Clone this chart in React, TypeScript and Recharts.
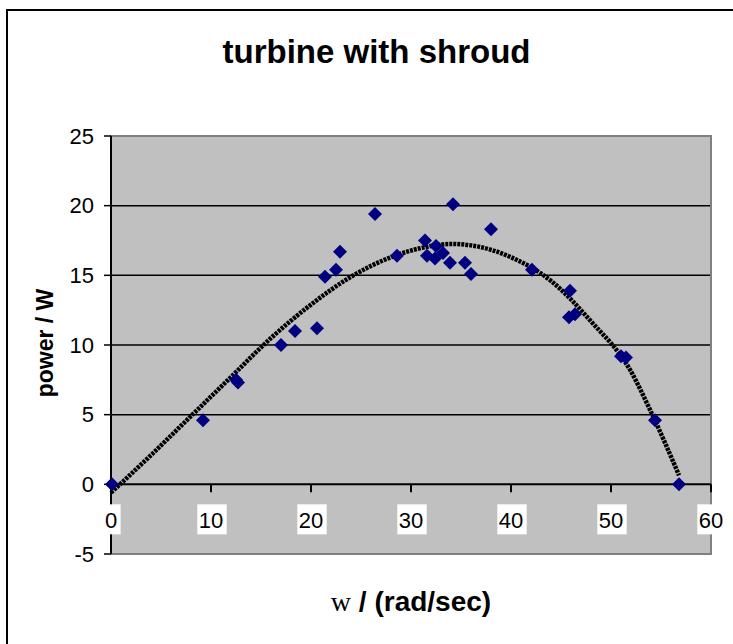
import React from "react";
import {
  ComposedChart,
  XAxis,
  YAxis,
  CartesianGrid,
  Scatter,
  Line,
  ReferenceLine,
  ReferenceDot,
  ReferenceArea,
} from "recharts";

// measured points: angular speed (rad/s) and power (W)
const omega = [
  0.1, 9.2, 12.5, 12.7, 17.0, 18.4, 20.6, 21.4, 22.5, 22.9, 26.4, 28.6, 31.4,
  31.6, 32.5, 32.4, 33.2, 33.9, 34.2, 35.4, 36.0, 38.0, 42.1, 45.9, 45.8, 46.4,
  51.0, 51.5, 54.4, 56.8,
];
const power = [
  0, 4.6, 7.5, 7.3, 10.0, 11.0, 11.2, 14.9, 15.4, 16.7, 19.4, 16.4, 17.5, 16.4,
  17.1, 16.2, 16.6, 15.9, 20.1, 15.9, 15.1, 18.3, 15.4, 13.9, 12.0, 12.2, 9.2,
  9.1, 4.6, 0,
];

// polynomial trendline
const trendX = [0, 4, 8, 12, 16, 20, 24, 28, 32, 34, 36, 40, 44, 48, 52, 54, 56.8];
const trendY = [
  -0.6, 2.1, 4.9, 7.7, 10.5, 12.9, 14.9, 16.3, 17.1, 17.25, 17.15, 16.3, 14.6,
  11.7, 8.1, 5.2, 0.65,
];

const xTicks = [0, 10, 20, 30, 40, 50, 60];
const yTicks = [-5, 0, 5, 10, 15, 20, 25];
const gridValues = [5, 10, 15, 20];

const measured = omega.map((x, i) => ({ x, y: power[i] }));
const trend = trendX.map((x, i) => ({ x, y: trendY[i] }));

const FONT = "'Liberation Sans', Arial, sans-serif";

const Diamond = (props: any) => {
  const { cx, cy } = props;
  if (cx == null || cy == null) return null;
  const r = 7;
  return (
    <polygon
      points={`${cx},${cy - r} ${cx + r},${cy} ${cx},${cy + r} ${cx - r},${cy}`}
      fill="#000080"
    />
  );
};

// tick mark + boxed label hung below the zero line
const makeXTick = (value: number) => (props: any) => {
  const { cx, cy } = props;
  if (cx == null || cy == null) return null;
  const label = String(value);
  const w = label.length * 12.2 + 5;
  return (
    <g>
      <line x1={cx} y1={cy} x2={cx} y2={cy + 8} stroke="#000" strokeWidth={2} />
      <rect x={cx - w / 2 + 1} y={cy + 20} width={w} height={30} fill="#fff" />
      <text
        x={cx}
        y={cy + 36}
        textAnchor="middle"
        dominantBaseline="central"
        fontSize={22}
        fontFamily={FONT}
        fill="#000"
      >
        {label}
      </text>
    </g>
  );
};

export default function App() {
  return (
    <div
      style={{
        position: "absolute",
        left: 0,
        top: 0,
        width: 733,
        height: 644,
        overflow: "hidden",
        background: "#fff",
      }}
    >
      <div
        style={{
          position: "absolute",
          left: 6,
          top: 9,
          width: 800,
          height: 800,
          border: "2px solid #000",
        }}
      />
      <div
        style={{
          position: "absolute",
          left: 0,
          top: 35,
          width: 753,
          textAlign: "center",
          fontFamily: FONT,
          fontWeight: "bold",
          fontSize: 33,
          lineHeight: "33px",
        }}
      >
        turbine with shroud
      </div>
      <div
        style={{
          position: "absolute",
          left: 45 - 100,
          top: 343 - 14,
          width: 200,
          height: 28,
          lineHeight: "28px",
          textAlign: "center",
          transform: "rotate(-90deg)",
          fontFamily: FONT,
          fontWeight: "bold",
          fontSize: 23,
        }}
      >
        power / W
      </div>
      <div
        style={{
          position: "absolute",
          left: 411 - 150,
          top: 602 - 16,
          width: 300,
          height: 32,
          lineHeight: "32px",
          textAlign: "center",
          fontSize: 28,
          whiteSpace: "nowrap",
        }}
      >
        <span style={{ fontFamily: "'Liberation Serif', 'Times New Roman', serif" }}>w</span>
        <span style={{ fontFamily: FONT, fontWeight: "bold" }}> / (rad/sec)</span>
      </div>
      <div style={{ position: "absolute", left: 0, top: 0 }}>
        <ComposedChart
          width={733}
          height={644}
          margin={{ top: 136, right: 22, bottom: 90, left: 51 }}
        >
          <CartesianGrid
            fill="#c0c0c0"
            vertical={false}
            horizontalValues={gridValues}
            stroke="#000"
            strokeWidth={1.5}
          />
          <ReferenceArea
            x1={0}
            x2={60}
            y1={-5}
            y2={25}
            fill="none"
            stroke="#808080"
            strokeWidth={2}
          />
          <XAxis type="number" dataKey="x" domain={[0, 60]} ticks={xTicks} hide />
          <YAxis
            type="number"
            dataKey="y"
            domain={[-5, 25]}
            ticks={yTicks}
            width={60}
            axisLine={{ stroke: "#000", strokeWidth: 2 }}
            tickLine={{ stroke: "#000", strokeWidth: 1.5 }}
            tickSize={7}
            tickMargin={10}
            tick={{ fill: "#000", fontSize: 22, fontFamily: FONT }}
          />
          <ReferenceLine y={0} stroke="#000" strokeWidth={2} />
          {xTicks.map((t) => (
            <ReferenceDot key={t} x={t} y={0} r={0} shape={makeXTick(t)} />
          ))}
          <Line
            data={trend}
            dataKey="y"
            type="monotone"
            stroke="#000"
            strokeWidth={4.5}
            strokeDasharray="3 1"
            dot={false}
            activeDot={false}
            isAnimationActive={false}
          />
          <Scatter
            data={measured}
            dataKey="y"
            shape={<Diamond />}
            isAnimationActive={false}
          />
        </ComposedChart>
      </div>
    </div>
  );
}
